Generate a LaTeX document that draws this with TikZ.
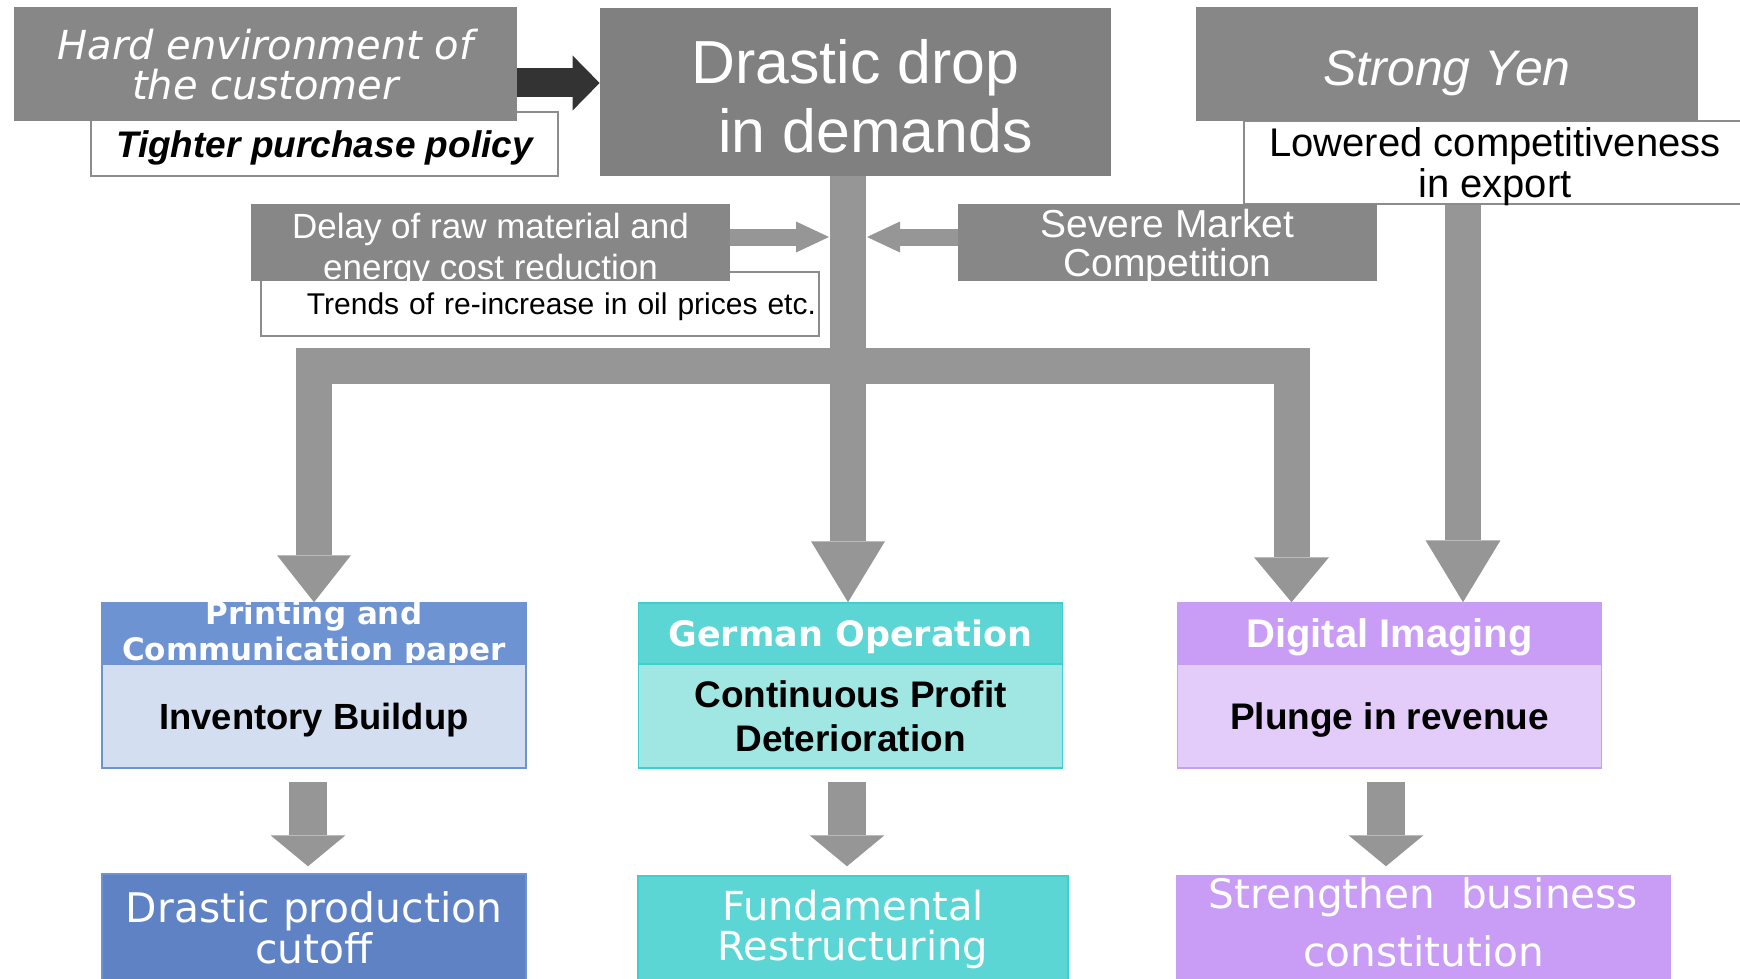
\documentclass[tikz,border=0pt]{standalone}
\usepackage{fontspec}
\setmainfont{Liberation Sans}
\newfontfamily\widefont{DejaVu Sans}
\usetikzlibrary{arrows.meta}
\definecolor{boxgray}{HTML}{878787}
\definecolor{dropgray}{HTML}{808080}
\definecolor{linegray}{HTML}{8C8C8C}
\definecolor{arrowgray}{HTML}{969696}
\definecolor{darkgray}{HTML}{333333}
\definecolor{bluehead}{HTML}{6E93D2}
\definecolor{bluebody}{HTML}{D3DEF0}
\definecolor{bluecut}{HTML}{5E82C4}
\definecolor{tealhead}{HTML}{5CD5D5}
\definecolor{tealbody}{HTML}{A0E7E4}
\definecolor{tealline}{HTML}{3FCFCF}
\definecolor{lilachead}{HTML}{C99CF6}
\definecolor{lilacbody}{HTML}{E3CCFA}
\newcommand\fs[2]{\fontsize{#1}{#2}\selectfont}
\begin{document}
\begin{tikzpicture}[x=0.5pt,y=-0.5pt,
  graybox/.style={fill=boxgray,text=white,inner sep=0pt,align=center,text depth=0pt},
  whitebox/.style={draw=linegray,line width=0.75pt,fill=white,inner sep=0pt,align=center,text depth=0pt},
  colbox/.style={inner sep=0pt,align=center,line width=0.75pt,minimum width=212pt,text depth=0pt},
  bigarrow/.style={draw=arrowgray,line width=18pt},
  smallarrow/.style={draw=arrowgray,line width=19pt,-{Triangle[width=37.5pt,length=15.5pt,line width=0pt]}},
  sidearrow/.style={draw=arrowgray,line width=8.5pt,-{Triangle[width=15.5pt,length=16.5pt,line width=0pt]}}]
   \useasboundingbox (0,0) rectangle (1740,979);
   \clip (0,0) rectangle (1740,979);
   \node[whitebox,minimum width=233.5pt,minimum height=32pt,font=\bfseries\itshape\fs{18.5}{22}] (tighter) at (324.5,144) {Tighter purchase policy};
   \node[graybox,minimum width=251.5pt,minimum height=57pt,font=\widefont\itshape\fs{20}{20}] (hard) at (265.5,64) {Hard environment of\\the customer};
   \node[graybox,fill=dropgray,minimum width=255.5pt,minimum height=84pt,text height=60.7pt,font=\fs{30.4}{34.5}] (drop) at (855.5,92) {Drastic drop\\\hspace*{0.66em}in demands};
   \node[whitebox,minimum width=251pt,minimum height=41.5pt,font=\fs{20}{20.5}] (lowered) at (1495,162.5) {Lowered competitiveness\\in export};
   \node[graybox,minimum width=251pt,minimum height=57pt,text height=21.7pt,font=\itshape\fs{25}{28}] (yen) at (1447,64) {Strong Yen};
   \node[whitebox,text width=276pt,inner xsep=1.5pt,align=right,minimum height=32pt,font=\fs{15}{18}] (trends) at (540,304) {Trends of re-increase in oil prices etc.};
   \node[graybox,minimum width=239.5pt,minimum height=38.5pt,text height=36.7pt,font=\fs{17.5}{20.5}] (delay) at (490.5,242.5) {Delay of raw material and\\energy cost reduction};
   \node[graybox,minimum width=209.5pt,minimum height=38.5pt,font=\fs{19.5}{19.5}] (severe) at (1167.5,242.5) {Severe Market\\Competition};

   \node[colbox,draw=bluehead,fill=bluehead,minimum height=30.5pt,
     label={[text=white,align=center,font=\widefont\bfseries\fs{15.5}{18}]center:Printing and\\Communication paper}] (paper) at (314,633.5) {};
   \node[colbox,draw=bluehead,fill=bluebody,minimum height=52pt,font=\bfseries\fs{18.2}{22}] (inv) at (314,716) {Inventory Buildup};
   \node[colbox,draw=tealline,fill=tealhead,text=white,minimum height=30.5pt,font=\widefont\bfseries\fs{17.5}{20}] (german) at (850.5,633.5) {German Operation};
   \node[colbox,draw=tealline,fill=tealbody,minimum height=52pt,font=\bfseries\fs{18.5}{22}] (profit) at (850.5,716) {Continuous Profit\\Deterioration};
   \node[colbox,draw=lilachead,fill=lilachead,text=white,minimum height=30.5pt,font=\bfseries\fs{20}{22}] (digital) at (1389.5,633.5) {Digital Imaging};
   \node[colbox,draw=lilachead,fill=lilacbody,minimum height=52pt,font=\bfseries\fs{18.5}{22}] (plunge) at (1389.5,716) {Plunge in revenue};

   \node[colbox,draw=bluehead,fill=bluecut,text=white,minimum height=53pt,font=\widefont\fs{20.4}{20.5}] (cutoff) at (314,927) {Drastic production\\cutoff};
   \node[colbox,draw=tealline,fill=tealhead,text=white,minimum width=215pt,minimum height=52pt,text depth=3pt,font=\widefont\fs{20}{20}] (restruct) at (853,928) {Fundamental\\Restructuring};
   \node[colbox,draw=lilachead,fill=lilachead,text=white,minimum width=246.5pt,minimum height=52pt,text depth=5.5pt,font=\widefont\fs{20.3}{29}] (strengthen) at (1423.5,928) {Strengthen\ \ business\\constitution};

   \draw[draw=darkgray,line width=14.5pt,-{Triangle[width=27.5pt,length=13.5pt,line width=0pt]}]
     ([yshift=-9.5pt]hard.east) -- ([yshift=-9.5pt]hard.east -| drop.west);

   \coordinate (split) at (848,366);
   \coordinate (trunkL) at (829,237);
   \coordinate (trunkR) at (867,237);
   \draw[bigarrow,-{Triangle[width=37pt,length=23.5pt,line width=0pt]}] (split) -| (paper.north);
   \draw[bigarrow,-{Triangle[width=37.5pt,length=22.5pt,line width=0pt]}] (split) -| ([xshift=-49pt]digital.north);
   \draw[bigarrow,-{Triangle[width=37pt,length=30.5pt,line width=0pt]}] (drop.south -| split) -- (split |- german.north);
   \draw[bigarrow,-{Triangle[width=37.5pt,length=31pt,line width=0pt]}] ([xshift=-16pt]lowered.south) -- ([xshift=-16pt]lowered.south |- digital.north);
   \draw[sidearrow] ([yshift=2.75pt]delay.east) -- (trunkL);
   \draw[sidearrow] ([yshift=2.75pt]severe.west) -- (trunkR);

   \draw[smallarrow] ([xshift=-3pt,yshift=-6.5pt]inv.south) -- ([xshift=-3pt,yshift=3.5pt]inv.south |- cutoff.north);
   \draw[smallarrow] ([xshift=-1.75pt,yshift=-6.5pt]profit.south) -- ([xshift=-1.75pt,yshift=4.5pt]profit.south |- restruct.north);
   \draw[smallarrow] ([xshift=-1.75pt,yshift=-6.5pt]plunge.south) -- ([xshift=-1.75pt,yshift=4.5pt]plunge.south |- strengthen.north);
\end{tikzpicture}
\end{document}
